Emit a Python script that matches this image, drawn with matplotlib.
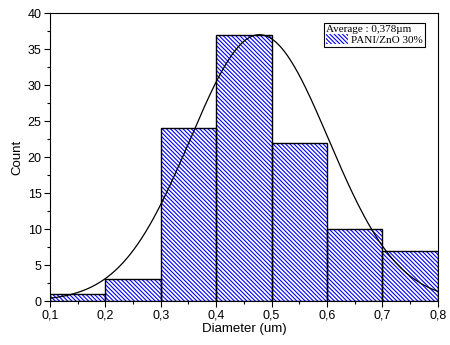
import numpy as np
import matplotlib
matplotlib.use("Agg")
import matplotlib.pyplot as plt
from matplotlib.patches import Patch
from matplotlib.ticker import MultipleLocator, FuncFormatter

# Histogram data
bin_edges = [0.1, 0.2, 0.3, 0.4, 0.5, 0.6, 0.7, 0.8]
counts = [1, 3, 24, 37, 22, 10, 7]

# Gaussian fit parameters
fit_amp = 37.0
fit_mean = 0.478
fit_sigma = 0.125

plt.rcParams["font.family"] = ["Liberation Sans", "DejaVu Sans"]
plt.rcParams["hatch.linewidth"] = 0.8
HATCH = "\\" * 8

fig = plt.figure(figsize=(4.5, 3.45), dpi=100)
ax = fig.add_axes([0.111, 0.1275, 0.862, 0.8345])

left = bin_edges[:-1]
width = np.diff(bin_edges)
ax.bar(left, counts, width=width, align="edge", color="white",
       edgecolor="blue", hatch=HATCH, linewidth=0)
ax.bar(left, counts, width=width, align="edge", fill=False,
       edgecolor="black", linewidth=1.0)

xs = np.linspace(0.1, 0.8, 300)
ys = fit_amp * np.exp(-(xs - fit_mean) ** 2 / (2 * fit_sigma ** 2))
ax.plot(xs, ys, color="black", linewidth=0.9)

ax.set_xlim(0.1, 0.8)
ax.set_ylim(0, 40)
ax.xaxis.set_major_locator(MultipleLocator(0.1))
ax.xaxis.set_minor_locator(MultipleLocator(0.05))
ax.yaxis.set_major_locator(MultipleLocator(5))
ax.yaxis.set_minor_locator(MultipleLocator(2.5))
ax.xaxis.set_major_formatter(FuncFormatter(lambda v, p: f"{v:.1f}".replace(".", ",")))
ax.tick_params(which="both", direction="out", labelsize=9, width=0.8, pad=2)
ax.tick_params(which="major", length=4)
ax.tick_params(which="minor", length=2)
ax.set_xlabel("Diameter (um)", fontsize=9.5, labelpad=1)
ax.set_ylabel("Count", fontsize=9.5, labelpad=3)

handle = Patch(facecolor="white", edgecolor="blue", hatch=HATCH, linewidth=0)
leg = ax.legend([handle], ["PANI/ZnO 30%"], title="Average : 0,378\u00b5m",
                loc="upper right", bbox_to_anchor=(0.968, 0.967),
                prop={"family": "Liberation Serif", "size": 8},
                title_fontproperties={"family": "Liberation Serif", "size": 8},
                fancybox=False, edgecolor="black", framealpha=1,
                borderpad=0.2, borderaxespad=0, handlelength=2.0,
                handleheight=1.0, handletextpad=0.3, labelspacing=0.05)
leg._legend_box.align = "left"
leg.get_frame().set_linewidth(0.8)

fig.savefig("out.png", dpi=100)
